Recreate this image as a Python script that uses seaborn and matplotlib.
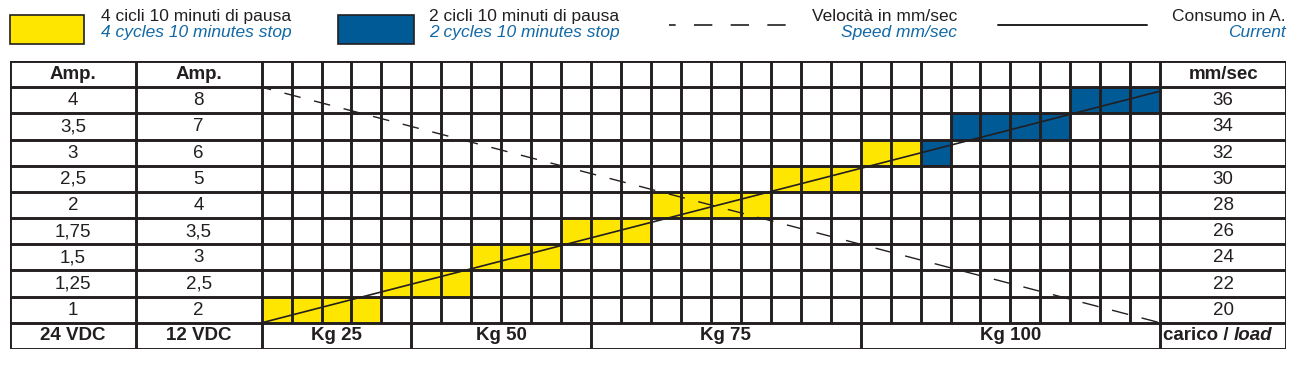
import numpy as np
import matplotlib
matplotlib.use("Agg")
import matplotlib.pyplot as plt
import seaborn as sns
from matplotlib.colors import ListedColormap
from matplotlib.patches import Rectangle

# valori della tabella (dall'alto verso il basso)
amp_24vdc = ["4", "3,5", "3", "2,5", "2", "1,75", "1,5", "1,25", "1"]
amp_12vdc = ["8", "7", "6", "5", "4", "3,5", "3", "2,5", "2"]
speed_mm_sec = ["36", "34", "32", "30", "28", "26", "24", "22", "20"]

# fasce di carico (numero di colonne per fascia)
load_labels = ["Kg 25", "Kg 50", "Kg 75", "Kg 100"]
load_columns = [5, 6, 9, 10]

# per ognuna delle 30 colonne: riga piena (0 = in basso) e cicli (4 o 2)
band_row = [0, 0, 0, 0, 1, 1, 1, 2, 2, 2, 3, 3, 3, 4, 4, 4, 4, 5, 5, 5,
            6, 6, 6, 7, 7, 7, 7, 8, 8, 8]
band_cycles = [4, 4, 4, 4, 4, 4, 4, 4, 4, 4, 4, 4, 4, 4, 4, 4, 4, 4, 4, 4,
               4, 4, 2, 2, 2, 2, 2, 2, 2, 2]

# linee: consumo (continua) e velocita (tratteggiata), in colonne / righe
current_x = [0, 30]
current_row = [0, 8.85]
speed_x = [0, 30]
speed_row = [9, 0]

YELLOW = "#ffe600"
BLUE = "#005a96"
TEXT_BLUE = "#1168a6"
INK = "#231f20"

sns.set_style("white")
plt.rcParams["font.family"] = ["Liberation Sans", "DejaVu Sans"]

n_rows = len(amp_24vdc)
n_cols = len(band_row)
cells = np.zeros((n_rows, n_cols))
for c in range(n_cols):
    cells[n_rows - 1 - band_row[c], c] = 1 if band_cycles[c] == 4 else 2

W, H = 1299, 370
fig = plt.figure(figsize=(W / 100, H / 100), dpi=100)

# ---------- tabella ----------
ax = fig.add_axes([10 / W, 1 - 349 / H, 1276 / W, 288 / H])
sns.heatmap(cells, ax=ax, cmap=ListedColormap(["white", YELLOW, BLUE]),
            vmin=0, vmax=2, cbar=False, xticklabels=False, yticklabels=False,
            linewidths=0)
left = -8.4
right = n_cols + 4.2
ax.set_xlim(left, right)
ax.set_ylim(n_rows + 1, -1)
ax.axis("off")

lw = 2.1
lc = ax.hlines(range(-1, n_rows + 2), left, right, color=INK, lw=lw)
lc.set_capstyle("projecting")
ax.vlines([left, -4.2, 0, n_cols, right], -1, n_rows + 1, color=INK, lw=lw)
ax.vlines(range(1, n_cols), -1, n_rows, color=INK, lw=lw)
bounds = np.cumsum(load_columns)
ax.vlines(bounds[:-1], n_rows, n_rows + 1, color=INK, lw=lw)

ax.plot(current_x, n_rows - np.array(current_row), color=INK, lw=1.2)
ax.plot(speed_x, n_rows - np.array(speed_row), color=INK, lw=1.0,
        ls=(5, (12, 10)))

fs = 13.5
for i in range(n_rows):
    y = i + 0.69
    ax.text(-6.3, y, amp_24vdc[i], ha="center", va="baseline", fontsize=fs, color=INK)
    ax.text(-2.1, y, amp_12vdc[i], ha="center", va="baseline", fontsize=fs, color=INK)
    ax.text(n_cols + 2.1, y, speed_mm_sec[i], ha="center", va="baseline",
            fontsize=fs, color=INK)

ax.text(-6.3, -0.31, "Amp.", ha="center", va="baseline", fontsize=fs, fontweight="bold", color=INK)
ax.text(-2.1, -0.31, "Amp.", ha="center", va="baseline", fontsize=fs, fontweight="bold", color=INK)
ax.text(n_cols + 2.1, -0.31, "mm/sec", ha="center", va="baseline", fontsize=fs,
        fontweight="bold", color=INK)

yb = n_rows + 0.66
ax.text(-6.3, yb, "24 VDC", ha="center", va="baseline", fontsize=fs, fontweight="bold", color=INK)
ax.text(-2.1, yb, "12 VDC", ha="center", va="baseline", fontsize=fs, fontweight="bold", color=INK)
starts = np.concatenate([[0], bounds[:-1]])
for lab, s, e in zip(load_labels, starts, bounds):
    ax.text((s + e) / 2, yb, lab, ha="center", va="baseline", fontsize=fs,
            fontweight="bold", color=INK)
t1 = ax.text(n_cols + 0.1, yb, "carico / ", ha="left", va="baseline", fontsize=fs,
             fontweight="bold", color=INK)
ax.annotate("load", xy=(1, 0), xycoords=t1, ha="left", va="bottom", fontsize=fs,
            fontweight="bold", fontstyle="italic", color=INK)

# ---------- legenda ----------
lg = fig.add_axes([0, 1 - 60 / H, 1, 60 / H])
lg.set_xlim(0, W)
lg.set_ylim(60, 0)
lg.axis("off")

lfs = 12.5
lg.add_patch(Rectangle((10, 15), 74, 29, fc=YELLOW, ec=INK, lw=1.2))
lg.text(101, 21, "4 cicli 10 minuti di pausa", fontsize=lfs, color=INK, va="baseline")
lg.text(101, 37, "4 cycles 10 minutes stop", fontsize=lfs, color=TEXT_BLUE,
        fontstyle="italic", va="baseline")

lg.add_patch(Rectangle((338, 15), 76, 29, fc=BLUE, ec=INK, lw=1.2))
lg.text(429, 21, "2 cicli 10 minuti di pausa", fontsize=lfs, color=INK, va="baseline")
lg.text(429, 37, "2 cycles 10 minutes stop", fontsize=lfs, color=TEXT_BLUE,
        fontstyle="italic", va="baseline")

lg.plot([669, 787], [25, 25], color=INK, lw=1.2, ls=(7, (11, 11)))
lg.text(957, 21, "Velocità in mm/sec", fontsize=lfs, color=INK, ha="right", va="baseline")
lg.text(957, 37, "Speed mm/sec", fontsize=lfs, color=TEXT_BLUE, fontstyle="italic",
        ha="right", va="baseline")

lg.plot([998, 1147], [24.5, 24.5], color=INK, lw=1.4)
lg.text(1286, 21, "Consumo in A.", fontsize=lfs, color=INK, ha="right", va="baseline")
lg.text(1286, 37, "Current", fontsize=lfs, color=TEXT_BLUE, fontstyle="italic",
        ha="right", va="baseline")

fig.savefig("out.png", dpi=100, facecolor="white")
